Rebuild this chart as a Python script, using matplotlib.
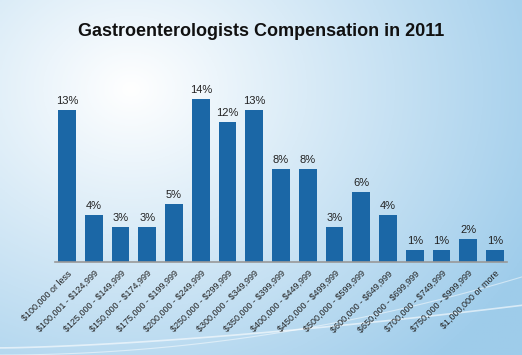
import numpy as np
import matplotlib.pyplot as plt

plt.rcParams['font.family'] = ['Liberation Sans', 'DejaVu Sans']
plt.rcParams['text.parse_math'] = False

categories = ['$100,000 or less', '$100,001 - $124,999', '$125,000 - $149,999',
              '$150,000 - $174,999', '$175,000 - $199,999', '$200,000 - $249,999',
              '$250,000 - $299,999', '$300,000 - $349,999', '$350,000 - $399,999',
              '$400,000 - $449,999', '$450,000 - $499,999', '$500,000 - $599,999',
              '$600,000 - $649,999', '$650,000 - $699,999', '$700,000 - $749,999',
              '$750,000 - $999,999', '$1,000,000 or more']
values = [13, 4, 3, 3, 5, 14, 12, 13, 8, 8, 3, 6, 4, 1, 1, 2, 1]

fig = plt.figure(figsize=(5.22, 3.55), dpi=100)

# background gradient
bg = fig.add_axes([0, 0, 1, 1], zorder=-10)
xx, yy = np.meshgrid(np.linspace(0, 1, 200), np.linspace(0, 1, 200))
d = np.clip(np.sqrt(((xx - 0.25) * 1.1) ** 2 + ((yy - 0.75) * 0.9) ** 2) / 0.95, 0, 1)
c0 = np.array([1.0, 1.0, 1.0])
c1 = np.array([0.62, 0.80, 0.92])
img = c0 + (c1 - c0) * d[..., None]
bg.imshow(img, extent=[0, 1, 0, 1], origin='lower', aspect='auto')
t = np.linspace(0, 1, 100)
bg.plot(t, 0.02 + 0.12 * t ** 1.5, color='white', lw=1.2, alpha=0.6)
bg.plot(t, 0.0 + 0.22 * t ** 2, color='white', lw=0.8, alpha=0.5)
bg.set_xlim(0, 1)
bg.set_ylim(0, 1)
bg.axis('off')

ax = fig.add_axes([55 / 522, 93 / 355, 452 / 522, 182 / 355])
ax.patch.set_alpha(0)
x = np.arange(len(values))
bars = ax.bar(x, values, width=0.67, color='#1b67a6')
for xi, v in zip(x, values):
    ax.text(xi, v + 0.35, f'{v}%', ha='center', va='bottom', fontsize=8, color='#222222')

ax.set_xlim(-0.45, len(values) - 0.55)
ax.set_ylim(0, 15.6)
ax.set_yticks([])
ax.set_xticks(x)
ax.set_xticklabels(categories, rotation=45, ha='right', rotation_mode='anchor',
                   fontsize=6.5, color='#222222')
ax.tick_params(axis='x', length=0, pad=5)
for s in ['top', 'right', 'left']:
    ax.spines[s].set_visible(False)
ax.spines['bottom'].set_color('#999999')
ax.spines['bottom'].set_linewidth(1.2)

fig.text(0.5, 1 - 32 / 355, 'Gastroenterologists Compensation in 2011', ha='center',
         va='center', fontsize=13, fontweight='bold', color='#111111')

fig.savefig('out.png', dpi=100)
